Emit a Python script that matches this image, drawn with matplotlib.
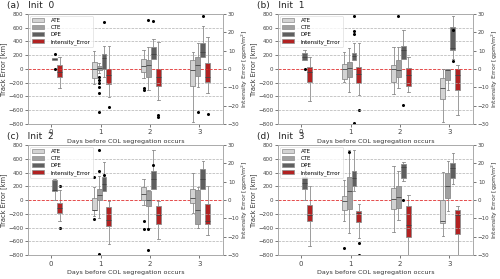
import matplotlib
matplotlib.use("Agg")
import matplotlib.pyplot as plt
from matplotlib.patches import Patch

days = [0, 1, 2, 3]
series = ["ATE", "CTE", "DPE"]
titles = ["(a)   Init  0", "(b)   Init  1", "(c)   Init  2", "(d)   Init  3"]

# box stats per day: (whislo, q1, med, q3, whishi); None = no data
# track errors in km, intensity error in gpm/m^2
a_ate = [None, (-218, -126, 0, 107, 262), (-136, -39, 44, 141, 276), (-766, -242, -15, 131, 252)]
a_cte = [None, (-60, -20, 10, 40, 90), (-305, -111, 58, 131, 325), (-267, -97, 60, 170, 373)]
a_dpe = [(130, 135, 148, 160, 165), (-111, 0, 165, 218, 335), (145, 145, 218, 325, 431), (170, 170, 242, 383, 630)]
a_int = [(-10.5, -4.2, -1.5, 2.2, 6.7), (-15.5, -8.4, -3.3, 0, 12.5), (-16.9, -9.3, -4.2, 0, 14.5), (-13.3, -6.9, -4.5, 3.1, 17.3)]
a_fl_ate = [[], [], [-281, -305], []]
a_fl_cte = [[], [-121, -160, -208, -267, -344, -625], [713], [-625]]
a_fl_dpe = [[218, 0], [688], [700], [771]]
a_fl_int = [[], [-20.9], [-25, -26.5], [-24.5]]

b_ate = [None, (-194, -145, 0, 73, 242), (-363, -194, 0, 58, 315), (-766, -436, -281, -136, 0)]
b_cte = [None, (-330, -121, 10, 97, 300), (-281, -121, -15, 131, 325), (-305, -160, -15, 0, 0)]
b_dpe = [(131, 131, 179, 228, 276), (131, 131, 189, 238, 373), (145, 145, 276, 339, 567), (141, 276, 310, 606, 776)]
b_int = [(-17.3, -6.9, -1.5, 1.3, 6.7), (-14.5, -7.8, -2.7, 1.3, 14.0), (-12.4, -9.1, -3.3, 0.7, 6.4), (-25.1, -11.5, -3.3, 0, 2.2)]
b_fl_ate = [[], [], [], []]
b_fl_cte = [[], [], [776], []]
b_fl_dpe = [[398, 0], [776, 553, 509, -790], [-528], [567, 110]]
b_fl_int = [[], [-22.4], [], []]

c_ate = [None, (-229, -151, -140, 29, 185), (-68, 5, 92, 190, 306), (-190, -44, 29, 160, 394)]
c_cte = [None, (-263, 5, 68, 165, 355), (-408, -92, 5, 136, 150), (-408, -350, -141, 151, 185)]
c_dpe = [(0, 126, 151, 297, 300), (136, 136, 233, 331, 550), (160, 160, 311, 428, 734), (160, 160, 306, 452, 564)]
c_int = [(-11.3, -6.8, -4.4, -1.6, 5.7), (-24.1, -14.0, -10.8, -4.0, -0.4), (-21.3, -12.9, -8.0, -3.1, -0.4), (-19.0, -13.1, -11.3, -2.2, 7.5)]
c_fl_ate = [[], [331, -277], [-311, -418], []]
c_fl_cte = [[], [725, 428, -783], [-423, -725], []]
c_fl_dpe = [[], [370], [515], []]
c_fl_int = [[7.8, -15.3], [], [], []]

d_ate = [None, (-311, -141, -19, 53, 297), (-467, -131, 20, 175, 491), (-530, -336, -300, -5, 408)]
d_cte = [None, (-481, -131, 126, 336, 725), (-287, -117, 44, 199, 418), (-165, 29, 199, 394, 564)]
d_dpe = [(0, 160, 248, 331, 515), (136, 209, 321, 423, 725), (272, 321, 477, 525, 554), (230, 321, 467, 540, 686)]
d_int = [(-25.0, -11.7, -8.0, -2.9, 7.5), (-20.8, -12.2, -7.1, -5.8, -2.2), (-30.0, -20.4, -13.5, -3.5, 2.6), (-30.0, -18.4, -8.0, -5.3, -3.1)]
d_fl_ate = [[], [-700], [], []]
d_fl_cte = [[], [695], [], []]
d_fl_dpe = [[], [], [0], []]
d_fl_int = [[], [-23.3, -29.9], [], []]

panels = [
    (a_ate, a_cte, a_dpe, a_int, a_fl_ate, a_fl_cte, a_fl_dpe, a_fl_int),
    (b_ate, b_cte, b_dpe, b_int, b_fl_ate, b_fl_cte, b_fl_dpe, b_fl_int),
    (c_ate, c_cte, c_dpe, c_int, c_fl_ate, c_fl_cte, c_fl_dpe, c_fl_int),
    (d_ate, d_cte, d_dpe, d_int, d_fl_ate, d_fl_cte, d_fl_dpe, d_fl_int),
]

colors = ["#d3d3d3", "#a0a0a0", "#5f5f5f", "#b22222"]
offsets = [-0.13, -0.03, 0.07, 0.17]
width = 0.1
edge = "#8c8c8c"


def to_stats(vals, fliers):
    out, pos = [], []
    for d, v, f in zip(days, vals, fliers):
        if v is None:
            continue
        out.append(dict(whislo=v[0], q1=v[1], med=v[2], q3=v[3], whishi=v[4], fliers=f))
        pos.append(d)
    return out, pos


def draw(ax, vals, fliers, color, off):
    stats, pos = to_stats(vals, fliers)
    ax.bxp(stats, positions=[p + off for p in pos], widths=width, patch_artist=True,
           manage_ticks=False,
           boxprops=dict(facecolor=color, edgecolor=edge, linewidth=0.6),
           medianprops=dict(color="#444444", linewidth=0.6),
           whiskerprops=dict(color=edge, linewidth=0.6),
           capprops=dict(color=edge, linewidth=0.6),
           flierprops=dict(marker="o", markersize=1.2, markerfacecolor="black",
                           markeredgecolor="black"))


fig = plt.figure(figsize=(5, 2.79), dpi=100)
lefts = [0.056, 0.556, 0.056, 0.556]
bottoms = [0.556, 0.556, 0.086, 0.086]

for i, p in enumerate(panels):
    ax = fig.add_axes([lefts[i], bottoms[i], 0.39, 0.394])
    ax2 = ax.twinx()
    for y in [-600, -400, -200, 200, 400, 600]:
        ax.axhline(y, color="#b0b0b0", linestyle="--", linewidth=0.5, zorder=0)
    ax.axhline(0, color="#e03030", linestyle="--", linewidth=0.6, zorder=1)
    for k in range(3):
        draw(ax, p[k], p[4 + k], colors[k], offsets[k])
    draw(ax2, p[3], p[7], colors[3], offsets[3])

    ax.set_xlim(-0.47, 3.48)
    ax.set_ylim(-800, 800)
    ax2.set_ylim(-30, 30)
    ax.set_xticks(days)
    ax.set_xticklabels([str(d) for d in days], fontsize=5, color="#333333")
    ax.set_yticks(range(-800, 801, 200))
    ax.tick_params(axis="y", labelsize=4, colors="#444444", length=2, width=0.5, pad=1.5)
    ax.tick_params(axis="x", length=2, width=0.5, colors="#444444", pad=2)
    ax2.set_yticks(range(-30, 31, 10))
    ax2.tick_params(axis="y", labelsize=4, colors="#444444", length=2, width=0.5, pad=1.5)
    for a in (ax, ax2):
        for s in a.spines.values():
            s.set_color("#aaaaaa")
            s.set_linewidth(0.6)
    ax.set_ylabel("Track Error [km]", fontsize=4.8, color="#333333", labelpad=1)
    ax2.set_ylabel("Intensity Error [gpm/m$^2$]", fontsize=4.5, color="#333333", labelpad=0.5)
    ax.set_xlabel("Days before COL segregation occurs", fontsize=4.6, color="#333333", labelpad=2.5)
    ax.text(-0.11, 1.035, titles[i], transform=ax.transAxes, fontsize=6.5,
            color="#222222", ha="left", va="bottom")

    handles = [Patch(facecolor=c, edgecolor=edge, linewidth=0.5) for c in colors]
    leg = ax.legend(handles, series + ["Intensity_Error"], loc="upper left", fontsize=4,
                    frameon=True, handlelength=2.2, handleheight=0.8, borderpad=0.4,
                    labelspacing=0.35, handletextpad=1.2, borderaxespad=0.3)
    leg.get_frame().set_linewidth(0.4)
    leg.get_frame().set_edgecolor("#cccccc")
    ax.set_zorder(ax2.get_zorder() + 1)
    ax.patch.set_visible(False)

fig.savefig("out.png", dpi=100)
